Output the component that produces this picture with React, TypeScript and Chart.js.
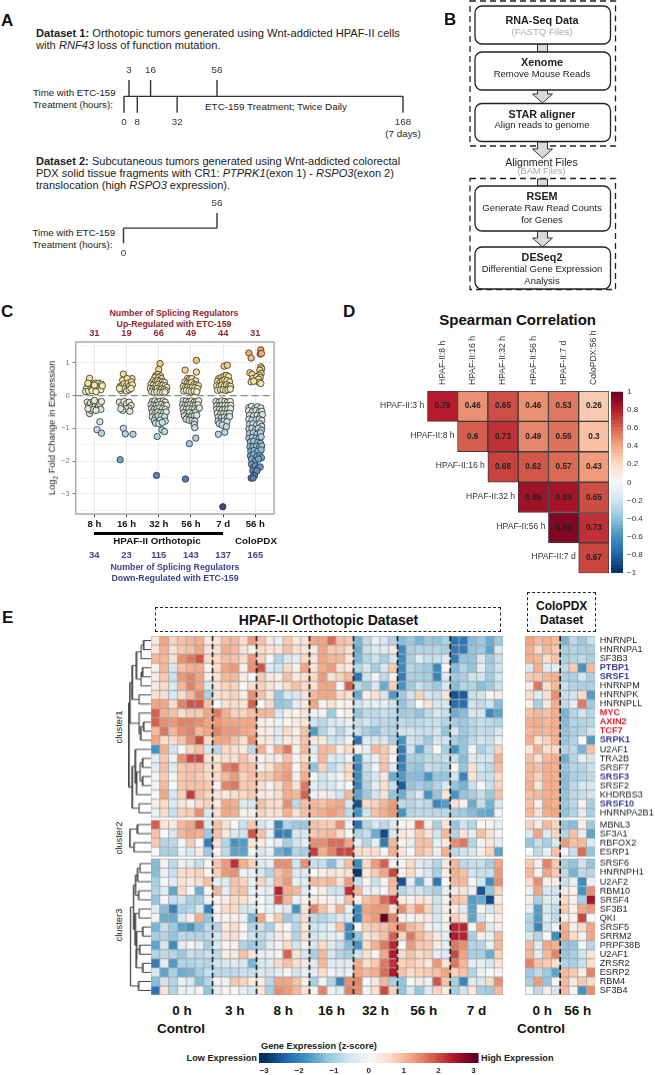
import React, { useEffect, useRef } from "react";
import { Chart, registerables } from "chart.js";
Chart.register(...registerables);

const FONT = '"Liberation Sans", Arial, sans-serif';

// ---------- Panel A ----------
const dataset1Up = [3, 16, 56];
const dataset1Down = [0, 8, 32, 168];
const dataset2Up = [56];
const dataset2Down = [0];
const dataset1End = 168;
const dataset2End = 56;

// ---------- Panel C ----------
const swarmLabels = ["8 h", "16 h", "32 h", "56 h", "7 d", "56 h"];
const upCounts = [31, 19, 66, 49, 44, 31];
const downCounts = [34, 23, 115, 143, 137, 165];
const swarm8h = [[-.15,.53],[-.2,.3],[-.25,.2],[-.27,.12],[-.18,.14],[-.1,.25],[-.12,.35],[-.03,.3],[0,.2],[.03,.38],[.07,.3],[.1,.22],[.13,.38],[.17,.28],[.2,.18],[.22,.35],[.25,.3],[-.07,.15],[.05,.12],[-.2,.38],[0,.32],
[-.15,-.55],[-.22,-.2],[-.17,-.3],[-.12,-.22],[-.07,-.35],[-.02,-.2],[.03,-.3],[.08,-.2],[.12,-.35],[.17,-.25],[.2,-.42],[.22,-.18],[-.1,-.45],[-.03,-.42],[.05,-.45],[0,-.15],[-.2,-.4],[.17,-.8],[.08,-1.04],[.22,-1.15]];
const swarm16h = [[-.1,.66],[.17,.52],[-.12,.47],[.02,.52],[-.2,.28],[-.14,.3],[-.07,.36],[0,.3],[.05,.38],[.1,.3],[.15,.42],[.18,.33],[-.17,.16],[-.08,.2],[0,.14],[.08,.18],[.14,.22],[-.22,.22],
[-.22,-.2],[-.15,-.3],[-.08,-.18],[0,-.25],[.08,-.2],[.14,-.3],[.07,-.38],[-.02,-.4],[-.12,-.45],[-.18,-.4],[.1,-.48],[-.1,-1.0],[-.04,-1.17],[.2,-1.18],[-.2,-1.96]];
const swarm32h = [[.04,.98],[0,.8],[-.08,.62],[-.02,.65],[.05,.6],[-.12,.55],[0,.55],[.08,.52],[-.18,.45],[-.1,.42],[-.03,.46],[.04,.44],[.11,.42],[.18,.4],[-.24,.35],[-.17,.32],[-.09,.3],[-.01,.34],[.06,.3],[.13,.32],[.2,.3],[.25,.25],[-.26,.22],[-.19,.2],[-.12,.18],[-.05,.22],[.02,.18],[.09,.2],[.16,.18],[.23,.15],[-.22,.12],[-.14,.1],[-.06,.11],[.04,.1],[.12,.1],[.19,.11],
[-.2,-.18],[-.12,-.16],[-.04,-.2],[.05,-.17],[.14,-.16],[.2,-.2],[-.24,-.28],[-.16,-.3],[-.08,-.3],[0,-.28],[.09,-.27],[.17,-.3],[.24,-.3],[-.22,-.4],[-.14,-.42],[-.05,-.4],[.03,-.38],[.12,-.4],[.2,-.42],[-.2,-.52],[-.12,-.55],[-.03,-.5],[.06,-.52],[.15,-.52],[.23,-.5],[-.2,-.65],[-.1,-.66],[-.02,-.62],[.08,-.64],[.18,-.65],[-.14,-.76],[-.05,-.8],[.04,-.75],[.2,-.78],[-.1,-.84],[0,-.86],[.11,-.82],[-.05,-1.25],[.1,-1.05],[.18,-1.1],[-.07,-2.44]];
const swarm56h = [[.17,1.08],[-.18,.78],[.17,.72],[-.1,.53],[-.04,.5],[.03,.52],[.14,.45],[-.19,.42],[-.12,.38],[-.05,.36],[.02,.4],[.09,.34],[.17,.33],[.23,.3],[-.24,.28],[-.17,.25],[-.1,.26],[-.03,.24],[.05,.26],[.12,.24],[.2,.22],[-.22,.14],[-.14,.16],[-.06,.14],[.02,.12],[.1,.14],[.18,.12],
[-.24,-.16],[-.15,-.17],[-.07,-.2],[.02,-.16],[.1,-.2],[.18,-.18],[.24,-.16],[-.26,-.28],[-.18,-.3],[-.1,-.29],[-.02,-.28],[.06,-.3],[.14,-.3],[.22,-.28],[-.24,-.4],[-.15,-.42],[-.06,-.4],[.03,-.42],[.12,-.4],[.2,-.42],[.26,-.38],[-.22,-.52],[-.13,-.54],[-.04,-.52],[.05,-.55],[.14,-.52],[-.2,-.62],[-.1,-.66],[0,-.65],[.1,-.62],[.18,-.6],[-.15,-.72],[-.06,-.75],[.04,-.76],[.12,-.78],[.1,-.88],[.12,-.98],[-.05,-1.47],[.15,-1.3],[-.17,-2.55]];
const swarm7d = [[.03,.9],[.13,.93],[-.14,.52],[-.06,.55],[.03,.6],[.1,.62],[.17,.58],[-.17,.44],[-.1,.4],[-.02,.45],[.05,.48],[.12,.46],[.2,.42],[-.2,.3],[-.12,.28],[-.04,.32],[.04,.3],[.11,.33],[.18,.3],[.23,.28],[-.17,.16],[-.08,.18],[0,.18],[.08,.16],[.15,.18],[.22,.2],
[-.22,-.18],[-.13,-.2],[-.04,-.16],[.05,-.18],[.13,-.2],[.22,-.18],[-.2,-.3],[-.12,-.32],[-.03,-.3],[.06,-.3],[.15,-.3],[.24,-.3],[-.2,-.42],[-.11,-.42],[-.03,-.44],[.06,-.42],[.14,-.42],[.23,-.4],[-.18,-.54],[-.08,-.56],[.02,-.55],[.11,-.55],[.2,-.54],[-.15,-.66],[-.06,-.68],[.04,-.66],[.13,-.68],[.2,-.64],[-.16,-.78],[-.07,-.8],[.03,-.78],[.12,-.8],[-.12,-.86],[-.03,-.9],[.1,-.95],[-.15,-1.18],[.05,-1.12],[-.01,-3.4]];
const swarmPdx = [[-.2,1.3],[-.13,1.15],[.17,1.4],[.15,1.27],[.19,1.29],[.17,.88],[.2,.82],[.14,.78],[-.17,.7],[-.1,.65],[.18,.68],[.12,.63],[-.03,.53],[-.08,.52],[.05,.58],[.15,.55],[.1,.5],[-.13,.42],[.12,.4],[.17,.37],[-.05,.44],
[-.2,-.36],[-.12,-.33],[-.02,-.4],[.07,-.34],[.17,-.38],[-.21,-.46],[-.1,-.5],[.02,-.46],[.12,-.5],[.2,-.48],[-.18,-.6],[-.06,-.62],[.06,-.6],[.16,-.62],[.22,-.58],[-.2,-.72],[-.1,-.75],[.02,-.74],[.12,-.72],[.2,-.76],[-.18,-.88],[-.07,-.86],[.04,-.9],[.14,-.86],[.2,-.94],[-.2,-1.02],[-.1,-1.0],[.01,-1.04],[.1,-1.0],[.19,-1.06],[-.18,-1.16],[-.06,-1.14],[.05,-1.18],[.16,-1.14],[-.2,-1.3],[-.09,-1.28],[.02,-1.3],[.12,-1.3],[.18,-1.26],[-.15,-1.42],[-.05,-1.4],[.07,-1.44],[.16,-1.46],[-.17,-1.56],[-.07,-1.56],[.03,-1.55],[.13,-1.58],[.2,-1.54],[-.14,-1.7],[-.04,-1.68],[.08,-1.7],[.18,-1.66],[-.15,-1.84],[-.05,-1.8],[.05,-1.86],[.14,-1.84],[.19,-1.9],[-.12,-1.94],[.0,-2.0],[.1,-1.94],[-.12,-2.1],[-.06,-2.2],[0,-2.15],[.08,-2.22],[.15,-2.18],[-.08,-2.3],[-.02,-2.38],[.05,-2.3],[-.03,-2.45],[-.13,-2.52],[-.07,-2.52]];
const swarms = [swarm8h, swarm16h, swarm32h, swarm56h, swarm7d, swarmPdx];

// ---------- Panel D ----------
const corrCols = ["HPAF-II:8 h", "HPAF-II:16 h", "HPAF-II:32 h", "HPAF-II:56 h", "HPAF-II:7 d", "ColoPDX:56 h"];
const corrRows = ["HPAF-II:3 h", "HPAF-II:8 h", "HPAF-II:16 h", "HPAF-II:32 h", "HPAF-II:56 h", "HPAF-II:7 d"];
const corrValues = [
  [0.79, 0.46, 0.65, 0.46, 0.53, 0.26],
  [null, 0.6, 0.73, 0.49, 0.55, 0.3],
  [null, null, 0.68, 0.62, 0.57, 0.43],
  [null, null, null, 0.85, 0.83, 0.65],
  [null, null, null, null, 0.93, 0.73],
  [null, null, null, null, null, 0.67],
];

// ---------- Panel E ----------
const geneNames = ["HNRNPL","HNRNPA1","SF3B3","PTBP1","SRSF1","HNRNPM","HNRNPK","HNRNPLL","MYC","AXIN2","TCF7","SRPK1","U2AF1","TRA2B","SRSF7","SRSF3","SRSF2","KHDRBS3","SRSF10","HNRNPA2B1",
  "MBNL3","SF3A1","RBFOX2","ESRP1",
  "SRSF6","HNRNPH1","U2AF2","RBM10","SRSF4","SF3B1","QKI","SRSF5","SRRM2","PRPF38B","U2AF1","ZRSR2","ESRP2","RBM4","SF3B4"];
const blueGenes = ["PTBP1", "SRSF1", "SRPK1", "SRSF3", "SRSF10"];
const redGenes = ["MYC", "AXIN2", "TCF7"];
const clusterSizes = [20, 4, 15];
const orthoGroups = ["0 h", "3 h", "8 h", "16 h", "32 h", "56 h", "7 d"];
const orthoGroupSizes = [7, 5, 6, 5, 5, 6, 6];
const pdxGroups = ["0 h", "56 h"];
const pdxGroupSizes = [4, 4];
const orthoZ = [
[.3,1.2,.7,.9,1,1.1,.3, .4,.9,1,.5,1.3, .9,.3,-.2,.8,.3,.4, 1.2,1.2,1.7,.9,.8, -1.4,-.8,-.2,-.5,-.9, -1.3,-1.1,-1.4,-1.1,-1.2,-1, -2.2,-2.2,-1.3,-1.1,-1.5,-1.1],
[.4,1.1,.5,.8,.9,1.2,.4, .5,1.1,1,.4,.1, .6,.4,.4,.9,.5,.4, .3,1.2,.8,.8,.5, -1.5,-.7,-.4,-.4,.3, -1.9,-1,-.9,-.9,-.9,-1, -2.1,-2.1,-1.2,-1.1,-1.6,-.5],
[1,1,.5,1.4,1.6,1.9,.6, .6,.9,.9,.6,1.3, .7,0,-.9,-.5,-.3,.6, .4,1.2,1,1,.4, -1.4,-.9,-.6,-1,-.5, -1.9,-1,-.4,-.7,-.7,-.4, -2.1,-1.2,-1.2,-.5,-1.1,-.7],
[.1,1,-.5,.9,1.1,1.1,.1, .5,1.2,1.3,.2,1.4, 1.9,-.4,-.6,.6,.1,1.2, .4,1.1,1.3,.4,.3, -.9,-.5,-1,-.5,.8, -1.9,-.9,-1,-1.1,-1.9,0, -1.3,-.9,-1.2,-.3,-1,-.6],
[.3,.8,-.7,1.3,1.5,1.2,.2, .5,1,1,.3,0, .8,.3,.2,.9,.3,.5, .6,1.3,.5,.7,1, -2.2,-.6,-.1,-.8,.1, -2.1,-1,-1,-1,-2,-.4, -1.1,-1,-.6,-.6,-1.1,-.6],
[.3,.6,-.5,1,1.5,1.2,-.5, .4,.7,.7,0,.5, .7,.4,.2,.6,.9,.6, .5,1.2,1.2,0,1.8, -.8,-1.1,-.5,-1.5,.7, -1.8,-1.1,-.7,-.9,-1.1,-.5, -1.3,-.9,-.9,-1.3,-1.1,-.7],
[.5,.5,-.5,.5,1,1.5,-1, .4,.6,.7,.2,1.4, .9,.3,-1.2,-.5,-.5,.4, 1,1.2,1.2,.6,.5, -1.5,.2,.4,-.5,-1.7, -1.1,-.6,.7,-.5,-.7,.4, -2.6,-2.5,-.7,-.6,0,.2],
[1.2,1.2,.6,1.5,1.9,1.9,.9, 0,.5,.6,.4,1.8, 0,.6,-1.2,-1.1,-.3,.3, 1.2,.1,.5,.1,.1, -.6,-.4,-.3,-.3,-.6, -1.2,-.8,0,.4,-.5,-.5, -2.3,-2.3,-.6,-.8,-.6,-1.3],
[1.8,1.1,.9,.6,.8,.8,1.2, 1.6,1.1,.7,.7,.9, 1,1,-.5,.2,.1,.4, -.2,.1,-1.1,0,.2, -1.2,-.8,-.8,-.7,-.8, -1.1,-1,-1.2,-.8,-.5,-.7, -1.5,-1.3,-.5,-.6,-1.9,-1.6],
[1.8,1.4,1.3,1.5,1.5,1.4,1.2, 1.3,1.2,1.2,1.2,1.2, .2,.1,-.2,.1,.3,.4, -.6,-.8,-.5,-.4,-.2, -.7,-.6,-.8,-.8,-.9, -.8,-.9,-.8,-.7,-.7,-.9, -1,-1.1,-.9,-.7,-.8,-.9],
[1,1.6,1,1.4,1.5,1,1.2, 1.5,1.3,1.3,1.2,1.1, .3,.2,-.4,.6,.2,.9, -1.7,-.9,-.4,-.9,-.4, -.7,-1,-1.2,-.8,-.9, -.6,-.6,-.7,-.7,-.6,-1.2, -.5,-1.1,-.9,-.7,-.8,-.5],
[1.2,.6,.6,.9,1.4,2,.6, 1.2,1.2,.9,.5,1.4, .3,.3,-.4,.3,.3,.9, .3,.3,-.6,-.6,-.1, -2.2,-.4,-.5,-.5,-1, -1.8,-.6,-.7,-1.1,-.5,-.6, -1,-1.2,-.8,-.6,-.7,-.2],
[-1.8,1.1,-.6,0,.7,.9,-.5, -.8,.6,.6,.3,-.8, 1.1,.2,1.1,1.6,.2,1, -.4,1,.9,.2,.6, .2,-.3,1,.8,.3, -2.1,-.6,-1.6,-.8,0,-1, -1.8,-1.2,-.1,-1,-.7,.7],
[-.3,.8,-.2,1.4,2,2,.4, .3,.5,.5,.9,.5, .1,.3,.2,.9,.1,.6, -.2,1,-.4,-.5,-.1, -1.8,-.5,-.2,.8,0, -2.1,-1,-1,-.8,-.8,-.7, -.7,-1.3,-.4,-.6,-.6,1.1],
[-.3,.9,-.4,.8,.9,.9,.6, .6,1.5,1.7,.9,.9, .2,.4,1,1.2,0,.9, -1.2,.7,-.8,-.4,.6, -2,-.7,-.1,.9,-.4, -2,-1.1,-1.2,-.7,-.8,-.9, 0,-1.2,.4,-.6,-.8,.9],
[-.1,.8,-.1,.8,.9,.8,.6, .6,1,1.3,.7,.9, .8,.8,1.1,1.3,.2,1.1, -.1,-.6,-.3,-.1,.6, -1.9,-.8,-.5,.3,-1.5, -1.7,-1.3,-1.3,-1.8,-1.2,-1.2, -.6,-2,.4,-.7,-.7,.6],
[-.1,1,0,.8,.9,.9,.8, .1,1.5,1.6,.8,.8, .5,.1,.6,1.1,.4,1.6, -.3,-.6,-.5,-.2,0, -2,-.9,-.3,.5,-.7, -2.5,-1.2,-1,-1.2,-.9,-.5, -1.2,-1.4,-.7,0,-.7,.7],
[0,1.2,-.5,.7,2.1,.9,.7, .4,.3,.6,.6,.8, .3,.2,.5,1.1,1,1.8, -.2,.2,-.3,-.6,1, -1.6,-1.1,-.6,.4,-1.2, -1.5,-.8,-.4,-1.8,-1.2,.4, -1.8,-1.2,-1,-.7,-1.1,.9],
[.2,.6,-.4,.4,.1,.6,.7, .3,1.2,1.1,-.4,-.5, .9,.6,.5,1.4,-.8,.9, 1,.9,1.1,1.2,-.5, -2.6,.6,.7,1,1.3, -.8,-.9,-.7,-.8,-2,-1.7, .4,.1,-1.5,-.7,-1.4,-.5],
[-.2,.6,-.7,.7,.8,1.4,-.5, .5,1.2,1.1,.2,.1, .7,.4,.5,1.1,.5,.9, 1,1.1,1.3,1.1,-.8, -1.8,-.6,.9,1.1,1.3, -1.8,-.9,-.8,-.8,-.8,-.8, -1,-1.1,-1.3,-1.5,-1.6,.1],
[1.8,.4,.3,1,1.2,1.9,-.5, .9,.5,0,-.7,.8, -.5,-.2,-2,-.9,-1.1,-1.1, .9,.8,.8,1.4,-.2, -2.2,-.9,-.5,-.8,-.4, .1,.1,1.7,.2,-1,.4, -1.2,-.6,-.9,0,.1,-.3],
[.9,0,-.5,1,1.2,1.1,-1.1, .9,.3,-.4,-.6,1.9, .9,-.3,-2.1,-2,-.5,-.5, .8,.9,1,.6,0, -.9,-.7,-1.5,-2.7,-.5, .4,.2,.8,.4,-.6,1, -.9,.4,-.3,.9,.4,-.1],
[.8,-.9,-.8,-.1,.8,0,-2.1, .4,-.9,-1.8,-1.7,.4, .3,-.1,-.3,-1,-.6,-.3, 1.4,1.4,1.7,1.7,1.2, -.3,-.9,-.3,-2.1,1, .1,-.3,.9,.9,-.3,.3, 1.4,1.6,-.9,-.1,.4,-.3],
[0,-1,-1,-.2,-.5,.3,-1.1, .1,-.8,-1.6,-1.6,.1, -.5,-.3,-1.5,-1.7,-.9,-1, 2.1,1.1,1.5,2,2, .6,.5,.5,-.1,1.1, .4,0,.9,.7,-.2,1.1, -.8,-.6,-.5,.2,.7,-1.6],
[-1.3,.1,-.8,-.2,-.4,-.7,0, .8,1.3,2.2,1.1,.7, -.4,-.3,1.4,1.4,-.6,1.4, -.7,-.7,-1.3,-.4,.9, -1.9,.6,1.3,1.8,.2, -.1,.6,-.4,-.5,-.9,.3, 1,-.8,-.7,-.7,-1,1.2],
[-1.3,-.2,-.7,.5,.6,.7,0, .7,1.3,1.4,-.2,-.2, -.5,-.9,.9,1.2,-.4,-.4, 0,.2,.4,.3,.5, -2.9,.3,.8,1.2,2, .1,.6,-.2,-.5,-1,.2, 1.1,.9,-.6,-.7,-.7,1.3],
[-1,0,-.4,.4,.3,.5,.9, -.3,-.4,.9,.7,-.3, .7,-.4,1,1.3,-.2,-.4, 1,.9,1,.5,1.3, -.7,.1,-.7,.1,1, -2.6,-.3,-1.5,-.2,-2.2,0, 1,1,-.1,-.6,-1.9,1.4],
[-.9,-.4,-1.6,.6,0,-1.5,0, 1,-.3,.8,.9,-.2, -.2,-.3,2.3,1.1,1,-.4, 0,.2,-.6,-.6,2.2, 1,-.2,-.2,0,.9, -.9,-.6,-.6,-.8,-1,-.3, .3,.4,-.2,-2.6,-1.2,.7],
[-1.2,0,-.7,-.6,-1,-1,-.1, .1,.2,.6,.5,.1, 0,-.3,1.9,1,-.2,.1, .3,.1,.2,-.2,.9, .1,.9,1.1,1.7,2.2, .3,.1,.4,.3,-.6,.1, .9,.8,-1.7,-1.5,-2.7,.3],
[-.4,-1.3,-2,-1,-.9,-.5,-2, .1,.6,.6,-.5,-.5, 0,-.2,-.2,-.4,-1.8,.4, 1.5,.9,.3,1.1,-.3, -1.9,1.2,1.3,1.3,.5, 1.4,.8,1.3,.7,-.6,.2, .3,-.4,-1.6,.1,-.6,.5],
[.1,-1.5,-1.5,-.5,.1,1.1,-1.2, .1,.1,.2,-.2,-1.4, 1.2,.1,.8,-1.1,-.8,.5, -.8,-.9,-.7,-.4,-.4, -2,1.1,1.3,3,1.5, .2,-.1,.2,.3,-.5,.1, .7,.3,-1.6,-.6,0,.3],
[-1.4,-.7,-1.1,-1.6,-1.8,-1.3,-.8, -.9,.3,.6,0,-.9, -.7,-1,.2,0,-.9,.3, -.6,-.5,-.2,.9,-1.9, 0,.7,.8,.9,1.2, 1.5,1,.8,.1,-.3,.1, 2.3,2.3,.1,1.2,-.4,.2],
[-1,-.9,-1.2,-.8,-.9,-.9,-.8, -.5,.4,.5,.1,-.6, -.8,-.5,.3,.2,-.9,.5, -.6,-.4,-.3,-.3,-1.9, -1.2,.4,.6,.9,1.8, .7,1.6,1,.7,.3,-.3, 2.4,2.3,-1,.2,-.2,1],
[-1.6,-.5,-1.9,-.3,-.1,-.3,-1, -.4,0,.1,-.9,-1.1, -.9,-.3,.1,.6,-.6,.1, -.5,.6,-.4,-.7,-1.3, -1.8,.6,1.1,1.6,2.3, 0,1.3,.8,.8,.3,-.3, 1.6,1.4,-.9,-.9,-.2,1],
[-.9,-.8,-.9,-1.1,-.7,-.8,-.7, -.8,.2,.3,.9,.3, -.2,-.2,.1,1.8,.4,-.5, -1,1,-.5,-.9,-1, -.6,.5,.1,1.2,2.4, .6,.9,.6,.7,-.3,-.4, 2,1.2,-1,-1,-1.5,.7],
[-2.1,-.3,-1.7,-.9,-.9,-.8,-.9, -.6,-.5,-.4,-.5,-1.4, -.5,-.4,.6,.9,.5,.3, -.4,1,-.4,-.4,-.4, 1.1,.5,.8,1.6,2.2, .7,.8,.6,.3,1.3,.4, 1.6,1,-.3,-.3,-.5,.4],
[-.5,-1.6,-1,-1.5,-1.4,-1,-.7, -.8,-.8,-.8,-.7,-.7, -.4,-.5,-.3,-.1,-.6,-.2, -.3,.6,-.1,-.3,-.2, 1.2,1,1.1,1.7,2.4, .9,.6,.7,.8,.9,1.2, .7,.9,-.9,-.2,0,.1],
[-1.3,-.6,-.9,-.2,-.5,-1.3,-.9, -.1,-.1,.8,.7,.3, .2,-.8,1.2,1.2,.9,.2, -1,-.1,-.9,-2,1.4, 1.5,0,.3,1,-1, -1.2,0,.3,-.2,1.9,.9, -1,-2,-.4,-.5,.6,1.4],
[-2.2,.4,-.9,-.2,-.2,-.1,-1.2, -.3,.1,0,-.3,-.5, .4,-1,1.4,1.3,1,.5, -.1,1.5,-.2,-.4,1.5, 1.4,.1,.5,2,.7, -1.2,-.5,-1.2,-.4,.7,.3, -1,-.6,.3,-1,-1.1,1],
];
const pdxZ = [
[1.2,1,1.1,1, -1.4,-.8,-1.1,-.7],
[1.1,.6,1,.8, -1,-.9,-1,-1],
[1.1,1,.6,.9, -1,-.9,-.8,-1],
[-.5,1.1,-.4,-.3, -.8,.8,-1.8,1],
[.8,.8,1,1.1, -1,-1,-.6,-1],
[.2,1.6,.5,1, -.7,-.9,-1,-1],
[.6,-.4,.4,1.4, -.7,-.6,.6,-1.7],
[.2,-1,.3,1.1, -.8,-.3,1.6,-1.1],
[.9,1,.9,1.1, -1.4,-.9,-.6,-.9],
[1.1,1.1,1,1.1, -1.3,-.9,-.9,-.9],
[1,1.1,1,1.1, -1.2,-1,-.9,-.6],
[1.1,.4,.7,1.1, -1.2,-.9,0,-1.7],
[.4,1.1,.5,.6, -.9,-.8,-1.4,.9],
[.9,.5,1,1.1, -1.5,-.9,-.3,-.6],
[1,.9,1.1,1.1, -1.2,-.9,-.9,-.7],
[1,.7,1.1,1.1, -1.3,-1,-.9,-.8],
[1.1,.4,1.1,1.1, -1.3,-.8,-.5,-.5],
[.9,1,1.1,1.1, -1.2,-.8,-.7,-.6],
[.9,.2,1.2,1.1, -1.1,-.8,.1,-1],
[1,.5,1.1,1.2, -1.2,-.9,-.3,-1],
[.7,.3,1,.7, -1.2,-1.3,.2,-1.1],
[-.5,1.2,-.4,.7, -.9,.9,-.3,-1.6],
[-1.2,-.7,-1,-.5, 1.3,.9,1,-.5],
[0,-.8,-.2,.9, 0,-.7,1.7,-1.2],
[.8,.2,1.5,.8, -1,-1.2,-.6,-1.2],
[1,.1,1.2,.8, -.8,-1.4,-.8,-.9],
[.6,1.4,.2,.2, -.7,-.2,-1.9,-.2],
[-.2,1.2,-.5,-.6, .3,.1,-1.8,1.4],
[.2,-1,-.4,-.4, .6,.1,-1,2.5],
[-.3,-1.7,-.5,-.8, .8,.1,1.2,1.3],
[-.9,-1.7,-.4,-.8, .2,.1,2,0],
[-.9,-2,-.6,-.1, 1.1,.2,.6,1.2],
[-.5,-.9,0,-1.9, 1.2,.6,.1,1.2],
[1,-.4,1.2,1.1, -1.2,-1.2,-.1,-.9],
[1,-.3,1,1.5, -1.2,-1,-.6,.4],
[1.5,.9,.8,.5, -.9,-1,-.7,.5],
[-1.1,-.8,-1.1,-1.6, 1,.8,.2,1.5],
[-1,1.3,-1.2,0, 1,.3,.8,.6],
[-.1,-.8,.3,-.6, 1,.1,-1.8,1.4],
];
// dendrogram: [merge distance, left branch, right branch]; numbers are row indices
const treeCluster1 = [21.7,
  [20.7,
    [18.3,
      [14.3, [9.7, [7.3, 0, 1], 2], [9.7, [8.3, 3, 4], 5]],
      [11.7, 6, 7]],
    [11.7, 8, [10, [7.3, 9, 10], 11]]],
  [18.3,
    [15.3, 12, [14, [10.7, [8.3, 13, 14], [8.3, 15, 16]], 17]],
    [11.7, 18, 19]]];
const treeCluster2 = [20.7, [13.3, 20, 21], [16.7, 22, 23]];
const treeCluster3 = [20,
  [17,
    [15, [13, [10.7, 24, 25], 26], [12, 27, 28]],
    [15.5, [11.7, 29, 30], [14, [8, 31, 32], [14.5, [11, 33, 34], [8, 35, 36]]]]],
  [12, 37, 38]];

// ---------- colours ----------
const rdbuStops = ["#053061","#2166ac","#4393c3","#92c5de","#d1e5f0","#f7f7f7","#fddbc7","#f4a582","#d6604d","#b2182b","#67001f"];
const hex = (c: string) => [1, 3, 5].map((i) => parseInt(c.slice(i, i + 2), 16));
function lerpStops(stops: string[], t: number) {
  const p = Math.max(0, Math.min(1, t)) * (stops.length - 1);
  const i = Math.min(stops.length - 2, Math.floor(p));
  const a = hex(stops[i]), b = hex(stops[i + 1]), f = p - i;
  return `rgb(${a.map((v, k) => Math.round(v + (b[k] - v) * f)).join(",")})`;
}
const rdbu = (t: number) => lerpStops(rdbuStops, (t + 1) / 2);
const swarmStopValues = [-3.4, -2.5, -2, -1.5, -1, -.5, -.2, .2, .5, 1, 1.4];
const swarmStopColors = ["#46468f","#5a7fb8","#6ba2cc","#93c4de","#bddce8","#d8e8dc","#e6edd4","#f5efb5","#f8e39a","#f9c77e","#f4a460"];
function swarmColor(v: number) {
  let i = 0;
  while (i < swarmStopValues.length - 2 && v > swarmStopValues[i + 1]) i++;
  const f = Math.max(0, Math.min(1, (v - swarmStopValues[i]) / (swarmStopValues[i + 1] - swarmStopValues[i])));
  const a = hex(swarmStopColors[i]), b = hex(swarmStopColors[i + 1]);
  return `rgb(${a.map((c, k) => Math.round(c + (b[k] - c) * f)).join(",")})`;
}

// ---------- helpers ----------
const base = { responsive: false, animation: false as const, events: [] as string[], };
const noLegend = { legend: { display: false }, tooltip: { enabled: false } };

function ChartBox({ x, y, w, h, config }: any) {
  const ref = useRef<HTMLCanvasElement>(null);
  useEffect(() => {
    const chart = new Chart(ref.current!, config());
    return () => chart.destroy();
  }, []);
  return <canvas ref={ref} width={w} height={h} style={{ position: "absolute", left: x, top: y, width: w, height: h, display: "block" }} />;
}

function T({ x, y, s = 10, b = false, i = false, c = "#222", a = "left", r = 0, children }: any) {
  const tx = a === "center" ? "-50%" : a === "right" ? "-100%" : "0";
  return (
    <div style={{ position: "absolute", left: x, top: y, fontSize: s, fontWeight: b ? 700 : 400, fontStyle: i ? "italic" : "normal", color: c, whiteSpace: "nowrap", lineHeight: 1, fontFamily: FONT,
      transform: `translate(${tx},-50%)${r ? ` rotate(${r}deg)` : ""}` }}>{children}</div>
  );
}

// ---------- timeline ----------
function timelineConfig(up: number[], down: number[], end: number, padL: number, padR: number, padT: number, padB: number) {
  const color = "#333";
  const seg = (pts: any[]) => ({ data: pts, showLine: true, borderColor: color, borderWidth: 1.4, pointRadius: 0, clip: false as const });
  const labels = {
    id: "tlLabels",
    afterDatasetsDraw(chart: any) {
      const { ctx, scales: { x, y } } = chart;
      ctx.save();
      ctx.font = `9.8px ${FONT}`;
      ctx.fillStyle = "#333";
      ctx.textAlign = "center";
      ctx.textBaseline = "middle";
      up.forEach((v) => ctx.fillText(String(v), x.getPixelForValue(v), y.getPixelForValue(1) - 10));
      down.forEach((v) => ctx.fillText(String(v), x.getPixelForValue(v), y.getPixelForValue(-1) + 10));
      ctx.restore();
    },
  };
  return {
    type: "scatter" as const,
    data: {
      datasets: [
        seg([{ x: 0, y: 0 }, { x: end, y: 0 }]),
        ...up.map((v) => seg([{ x: v, y: 0 }, { x: v, y: 1 }])),
        ...down.map((v) => seg([{ x: v, y: 0 }, { x: v, y: -1 }])),
      ],
    },
    options: {
      ...base,
      layout: { padding: { left: padL, right: padR, top: padT, bottom: padB } },
      plugins: noLegend,
      scales: {
        x: { type: "linear" as const, display: false, min: 0, max: end },
        y: { type: "linear" as const, display: false, min: -1, max: 1 },
      },
    },
    plugins: [labels],
  };
}

// ---------- swarm ----------
function swarmConfig() {
  const frame = {
    id: "frame",
    afterDatasetsDraw(chart: any) {
      const { ctx, chartArea: a } = chart;
      ctx.save();
      ctx.strokeStyle = "#a9a9a9";
      ctx.lineWidth = 1.5;
      ctx.strokeRect(a.left, a.top, a.right - a.left, a.bottom - a.top);
      ctx.restore();
    },
  };
  const ticks16 = (s: any) => { s.ticks = swarmLabels.map((_, i) => ({ value: i + 1 })); };
  return {
    type: "scatter" as const,
    data: {
      datasets: [
        { data: [{ x: .42, y: 0 }, { x: 6.58, y: 0 }], showLine: true, borderColor: "#888", borderWidth: 1.2, borderDash: [7, 4], pointRadius: 0 },
        ...swarms.map((pts, c) => ({
          data: pts.map(([o, v]) => ({ x: c + 1 + o, y: v })),
          backgroundColor: (ctx: any) => (ctx.raw ? swarmColor(ctx.raw.y) : "#fff"),
          borderColor: "#2d2d2d",
          borderWidth: .8,
          pointRadius: 3.2,
        })),
      ],
    },
    options: {
      ...base,
      layout: { padding: { right: 6 } },
      plugins: noLegend,
      scales: {
        x: {
          type: "linear" as const, min: .42, max: 6.58, position: "bottom" as const,
          afterBuildTicks: ticks16,
          afterFit: (s: any) => { s.height = 22; },
          grid: { color: "#e8ecf1", tickColor: "#333", tickLength: 3 },
          border: { display: false },
          ticks: { autoSkip: false, maxRotation: 0, padding: 2, color: "#111", font: { family: FONT, size: 9.6, weight: "bold" as const }, callback: (v: any) => swarmLabels[v - 1] },
        },
        xTop: {
          type: "linear" as const, min: .42, max: 6.58, position: "top" as const,
          afterBuildTicks: ticks16,
          afterFit: (s: any) => { s.height = 17; },
          grid: { display: false, drawTicks: false },
          border: { display: false },
          ticks: { autoSkip: false, maxRotation: 0, padding: 3, color: "#8b2a2e", font: { family: FONT, size: 9.4, weight: "bold" as const }, callback: (v: any) => String(upCounts[v - 1]) },
        },
        y: {
          type: "linear" as const, min: -3.62, max: 1.64,
          afterBuildTicks: (s: any) => { s.ticks = [-3.5, -3, -2.5, -2, -1.5, -1, -.5, 0, .5, 1, 1.5].map((value) => ({ value })); },
          afterFit: (s: any) => { s.width = 35.7; },
          grid: {
            color: (c: any) => (c.tick && c.tick.value % 1 === 0 ? "#e8ecf1" : "#f2f4f7"),
            tickColor: (c: any) => (c.tick && c.tick.value % 1 === 0 ? "#666" : "rgba(0,0,0,0)"),
            tickLength: 3,
          },
          border: { display: false },
          ticks: { autoSkip: false, padding: 3, color: "#777", font: { family: FONT, size: 7.6 }, callback: (v: any) => (v % 1 === 0 ? String(v).replace("-", "\u2212") : "") },
        },
      },
    },
    plugins: [frame],
  };
}

// ---------- floating-bar matrix ----------
function corrConfig() {
  const labels = {
    id: "corrLabels",
    afterDatasetsDraw(chart: any) {
      const { ctx, scales: { x, y } } = chart;
      ctx.save();
      ctx.textBaseline = "middle";
      corrValues.forEach((row, r) => {
        const first = row.findIndex((v) => v !== null);
        const half = (x.getPixelForValue(1) - x.getPixelForValue(0)) / 2;
        ctx.font = `8.6px ${FONT}`;
        ctx.fillStyle = "#333";
        ctx.textAlign = "right";
        ctx.fillText(corrRows[r], x.getPixelForValue(first) - half - 3, y.getPixelForValue(r + .5) - 1);
        ctx.font = `bold 8.2px ${FONT}`;
        ctx.fillStyle = "#222";
        ctx.textAlign = "center";
        row.forEach((v, c) => { if (v !== null) ctx.fillText(String(v), x.getPixelForValue(c), y.getPixelForValue(r + .5)); });
      });
      ctx.font = `8.6px ${FONT}`;
      ctx.fillStyle = "#333";
      ctx.textAlign = "left";
      corrCols.forEach((name, c) => {
        ctx.save();
        ctx.translate(x.getPixelForValue(c), y.getPixelForValue(0) - 6);
        ctx.rotate(-Math.PI / 2);
        ctx.fillText(name, 0, 0);
        ctx.restore();
      });
      ctx.restore();
    },
  };
  return {
    type: "bar" as const,
    data: {
      labels: corrCols,
      datasets: corrValues.map((row, r) => ({
        data: row.map((v) => (v === null ? null : [r, r + 1])),
        backgroundColor: row.map((v) => (v === null ? "rgba(0,0,0,0)" : rdbu(v))),
        borderColor: "#3a3a3a",
        borderWidth: 1,
        borderSkipped: false,
        grouped: false,
        barPercentage: 1,
        categoryPercentage: 1,
      })),
    },
    options: {
      ...base,
      layout: { padding: { left: 82.3, top: 76, right: 3, bottom: 1.7 } },
      plugins: noLegend,
      scales: {
        x: { type: "category" as const, display: false },
        y: { type: "linear" as const, display: false, min: 0, max: 6, reverse: true },
      },
    },
    plugins: [labels],
  };
}

function gradientSteps(min: number, max: number, step: number) {
  const out: number[] = [];
  for (let v = min; v < max - 1e-6; v += step) out.push(v);
  return out;
}

function corrBarConfig() {
  const steps = gradientSteps(-1, 1, .04);
  return {
    type: "bar" as const,
    data: {
      labels: ["scale"],
      datasets: steps.map((v) => ({ data: [[v, v + .045]], backgroundColor: rdbu(v + .02), borderWidth: 0, grouped: false, barPercentage: 1, categoryPercentage: 1 })),
    },
    options: {
      ...base,
      layout: { padding: { top: 6, bottom: 7 } },
      plugins: noLegend,
      scales: {
        x: { type: "category" as const, display: false },
        y: {
          type: "linear" as const, position: "right" as const, min: -1, max: 1,
          afterBuildTicks: (s: any) => { s.ticks = gradientSteps(-1, 1.1, .2).map((v) => ({ value: Math.round(v * 10) / 10 })); },
          afterFit: (s: any) => { s.width = 29; },
          grid: { display: false, drawOnChartArea: false, tickColor: "#333", tickLength: 2 },
          border: { display: false },
          ticks: { autoSkip: false, padding: 2, color: "#333", font: { family: FONT, size: 8 }, callback: (v: any) => String(v).replace("-", "\u2212") },
        },
      },
    },
  };
}

const rowTops: number[] = (() => {
  const out: number[] = [];
  let y = 0;
  clusterSizes.forEach((n) => { for (let i = 0; i < n; i++) out.push(y + i); y += n + .3; });
  return out;
})();
const rowMax = rowTops[rowTops.length - 1] + 1;

function heatConfig(z: number[][], groupSizes: number[], padRight: number, withLabels: boolean) {
  const dashes = {
    id: "dashes",
    afterDatasetsDraw(chart: any) {
      const { ctx, scales: { x, y }, chartArea: a } = chart;
      ctx.save();
      ctx.strokeStyle = "#111";
      ctx.lineWidth = 1.5;
      ctx.setLineDash([5, 3]);
      let c = 0;
      groupSizes.slice(0, -1).forEach((n) => {
        c += n;
        const px = (x.getPixelForValue(c - 1) + x.getPixelForValue(c)) / 2;
        ctx.beginPath();
        ctx.moveTo(px, a.top);
        ctx.lineTo(px, a.bottom);
        ctx.stroke();
      });
      ctx.setLineDash([]);
      if (withLabels) {
        ctx.textBaseline = "middle";
        ctx.textAlign = "left";
        geneNames.forEach((g, r) => {
          const blue = blueGenes.includes(g), red = redGenes.includes(g);
          ctx.font = `${blue || red ? "bold " : ""}9.1px ${FONT}`;
          ctx.fillStyle = blue ? "#3c3c96" : red ? "#e0202c" : "#222";
          ctx.fillText(g, a.right + 4.5, y.getPixelForValue(rowTops[r] + .5));
        });
      }
      ctx.restore();
    },
  };
  const cols = z[0].map((_, i) => String(i));
  return {
    type: "bar" as const,
    data: {
      labels: cols,
      datasets: z.map((row, r) => ({
        data: row.map(() => [rowTops[r], rowTops[r] + 1]),
        backgroundColor: row.map((v) => rdbu(v / 3)),
        borderColor: "#a8a8a8",
        borderWidth: .8,
        borderSkipped: false,
        grouped: false,
        barPercentage: 1,
        categoryPercentage: 1,
      })),
    },
    options: {
      ...base,
      layout: { padding: { right: padRight } },
      plugins: noLegend,
      scales: {
        x: { type: "category" as const, display: false },
        y: { type: "linear" as const, display: false, min: 0, max: rowMax, reverse: true },
      },
    },
    plugins: [dashes],
  };
}

function dendroConfig() {
  const datasets: any[] = [];
  const walk = (n: any): { h: number; y: number } => {
    if (typeof n === "number") return { h: 0, y: rowTops[n] + .5 };
    const [h, l, r] = n;
    const a = walk(l), b = walk(r);
    datasets.push({
      data: [{ x: a.h, y: a.y }, { x: h, y: a.y }, { x: h, y: b.y }, { x: b.h, y: b.y }],
      showLine: true, borderColor: "#444", borderWidth: 1, pointRadius: 0, clip: false,
    });
    return { h, y: (a.y + b.y) / 2 };
  };
  [treeCluster1, treeCluster2, treeCluster3].forEach(walk);
  return {
    type: "scatter" as const,
    data: { datasets },
    options: {
      ...base,
      plugins: noLegend,
      scales: {
        x: { type: "linear" as const, display: false, min: 0, max: 22.5, reverse: true },
        y: { type: "linear" as const, display: false, min: 0, max: rowMax, reverse: true },
      },
    },
  };
}

function heatBarConfig() {
  const steps = gradientSteps(-3.15, 3.15, .1);
  return {
    type: "bar" as const,
    data: {
      labels: ["scale"],
      datasets: steps.map((v) => ({ data: [[v, v + .11]], backgroundColor: rdbu((v + .05) / 3), borderWidth: 0, grouped: false, barPercentage: 1, categoryPercentage: 1 })),
    },
    options: {
      ...base,
      indexAxis: "y" as const,
      layout: { padding: { left: 9, right: 7.4 } },
      plugins: noLegend,
      scales: {
        y: { type: "category" as const, display: false },
        x: {
          type: "linear" as const, position: "bottom" as const, min: -3.15, max: 3.15,
          afterBuildTicks: (s: any) => { s.ticks = [-3, -2, -1, 0, 1, 2, 3].map((value) => ({ value })); },
          afterFit: (s: any) => { s.height = 12; },
          grid: { display: false, drawOnChartArea: false, tickColor: "#333", tickLength: 2 },
          border: { display: false },
          ticks: { autoSkip: false, maxRotation: 0, padding: 1, color: "#222", font: { family: FONT, size: 8, weight: "bold" as const }, callback: (v: any) => String(v).replace("-", "\u2212") },
        },
      },
    },
  };
}

// ---------- panel B ----------
function Flow() {
  const box = (y: number, h: number) => <rect x={475} y={y} width={135.5} height={h} rx={7} fill="#fff" stroke="#222" strokeWidth={1.3} />;
  const arrow = (y0: number, y1: number, head: boolean) => (
    <polygon fill="#d9d9d9" stroke="#333" strokeWidth={1}
      points={head
        ? `537.5,${y0} 547.5,${y0} 547.5,${y1 - 9} 552.5,${y1 - 9} 542.5,${y1} 532.5,${y1 - 9} 537.5,${y1 - 9}`
        : `537.5,${y0} 547.5,${y0} 547.5,${y1} 537.5,${y1}`} />
  );
  const dash = { fill: "none", stroke: "#222", strokeWidth: 1.3, strokeDasharray: "6 4" };
  return (
    <svg width={655} height={300} style={{ position: "absolute", left: 0, top: 0 }}>
      <rect x={470} y={1} width={145.5} height={145} {...dash} />
      <rect x={470} y={178.5} width={145.5} height={111} {...dash} />
      {arrow(44, 52, false)}
      {arrow(90, 103, true)}
      {arrow(142, 158, true)}
      {arrow(179, 186, false)}
      {arrow(231, 247, true)}
      {box(6, 38)}
      {box(52, 38)}
      {box(103.5, 38)}
      {box(186, 45)}
      {box(247, 42)}
    </svg>
  );
}

const W = 655, H = 1075;
const GX = 151.3, GW = 8.79, PX = 524.7, PW = 8.83;

export default function App() {
  useEffect(() => { document.body.style.margin = "0"; document.body.style.background = "#fff"; }, []);
  let acc = 0;
  const orthoCenters = orthoGroupSizes.map((n) => { const c = GX + (acc + n / 2) * GW; acc += n; return c; });
  let acc2 = 0;
  const pdxCenters = pdxGroupSizes.map((n) => { const c = PX + (acc2 + n / 2) * PW; acc2 += n; return c; });
  return (
    <div style={{ position: "absolute", left: 0, top: 0, width: W, height: H, overflow: "hidden", background: "#fff", fontFamily: FONT }}>
      {/* Panel A */}
      <T x={1} y={20} s={17} b c="#111">A</T>
      <T x={36} y={34} s={11.15}><b>Dataset 1:</b> Orthotopic tumors generated using Wnt-addicted HPAF-II cells</T>
      <T x={36} y={46} s={11.15}>with <i>RNF43</i> loss of function mutation.</T>
      <T x={33} y={92.5} s={9.7}>Time with ETC-159</T>
      <T x={33} y={104.5} s={9.7}>Treatment (hours):</T>
      <T x={276} y={107} s={9.9} a="center">ETC-159 Treatment; Twice Daily</T>
      <T x={403} y={133.5} s={9.8} a="center">(7 days)</T>
      <ChartBox x={110} y={60} w={310} h={75} config={() => timelineConfig(dataset1Up, dataset1Down, dataset1End, 14, 17, 20, 22.3)} />
      <T x={36} y={162} s={11.05}><b>Dataset 2:</b> Subcutaneous tumors generated using Wnt-addicted colorectal</T>
      <T x={36} y={174} s={11.05}>PDX solid tissue fragments with CR1: <i>PTPRK1</i>(exon 1) - <i>RSPO3</i>(exon 2)</T>
      <T x={36} y={186} s={11.05}>translocation (high <i>RSPO3</i> expression).</T>
      <T x={32.5} y={233} s={9.7}>Time with ETC-159</T>
      <T x={32.5} y={245} s={9.7}>Treatment (hours):</T>
      <ChartBox x={110} y={193} w={120} h={75} config={() => timelineConfig(dataset2Up, dataset2Down, dataset2End, 13.5, 13, 20, 24.7)} />

      {/* Panel B */}
      <Flow />
      <T x={444} y={19} s={17} b c="#111">B</T>
      <T x={542} y={20} s={10.8} b a="center">RNA-Seq Data</T>
      <T x={542} y={32} s={9.6} a="center" c="#aaa">(FASTQ Files)</T>
      <T x={542} y={62} s={10.8} b a="center">Xenome</T>
      <T x={542} y={73.5} s={9.5} a="center">Remove Mouse Reads</T>
      <T x={542} y={113.5} s={10.8} b a="center">STAR aligner</T>
      <T x={542} y={125} s={9.5} a="center">Align reads to genome</T>
      <T x={541.5} y={161.5} s={10.6} a="center">Alignment Files</T>
      <T x={541.5} y={172} s={9.2} a="center" c="#aaa">(BAM Files)</T>
      <T x={542} y={196} s={10.8} b a="center">RSEM</T>
      <T x={542} y={208} s={9.5} a="center">Generate Raw Read Counts</T>
      <T x={542} y={219.5} s={9.5} a="center">for Genes</T>
      <T x={542} y={257} s={10.8} b a="center">DESeq2</T>
      <T x={542} y={269} s={9.5} a="center">Differential Gene Expression</T>
      <T x={542} y={281} s={9.5} a="center">Analysis</T>

      {/* Panel C */}
      <T x={1} y={311} s={17} b c="#111">C</T>
      <T x={174} y={312.5} s={8.8} b a="center" c="#8b2a2e">Number of Splicing Regulators</T>
      <T x={174} y={323.5} s={8.8} b a="center" c="#8b2a2e">Up-Regulated with ETC-159</T>
      <ChartBox x={40} y={325} w={240} h={211} config={swarmConfig} />
      <T x={52.5} y={428} s={9.4} a="center" r={-90} c="#222"><span>Log<sub style={{ fontSize: 6.5 }}>2</sub> Fold Change in Expression</span></T>
      <div style={{ position: "absolute", left: 94, top: 532, width: 129, height: 2.6, background: "#000" }} />
      <T x={157} y={541} s={9.8} b a="center" c="#111">HPAF-II Orthotopic</T>
      <T x={256} y={541} s={9.8} b a="center" c="#111">ColoPDX</T>
      {downCounts.map((n, i) => (
        <T key={i} x={94.3 + i * 32.2} y={554.5} s={9.4} b a="center" c="#3f3f8f">{n}</T>
      ))}
      <T x={175} y={567} s={8.8} b a="center" c="#3f3f8f">Number of Splicing Regulators</T>
      <T x={175} y={578} s={8.8} b a="center" c="#3f3f8f">Down-Regulated with ETC-159</T>

      {/* Panel D */}
      <T x={343} y={311} s={17} b c="#111">D</T>
      <T x={517.7} y={319} s={15} b a="center" c="#111">Spearman Correlation</T>
      <ChartBox x={345} y={315} w={267} h={260} config={corrConfig} />
      <ChartBox x={611} y={385} w={41} h={195} config={corrBarConfig} />

      {/* Panel E */}
      <T x={2} y={617} s={17} b c="#111">E</T>
      <div style={{ position: "absolute", left: 155, top: 607, width: 346, height: 25, border: "1.3px dashed #222", boxSizing: "border-box" }} />
      <T x={328.5} y={620} s={14} b a="center" c="#111">HPAF-II Orthotopic Dataset</T>
      <div style={{ position: "absolute", left: 527, top: 592, width: 69, height: 40, border: "1.3px dashed #222", boxSizing: "border-box" }} />
      <T x={561.7} y={606} s={12} b a="center" c="#111">ColoPDX</T>
      <T x={561.7} y={620} s={12} b a="center" c="#111">Dataset</T>
      <T x={119} y={727} s={9.4} a="center" r={-90}>cluster1</T>
      <T x={119} y={838} s={9.4} a="center" r={-90}>cluster2</T>
      <T x={119} y={925} s={9.4} a="center" r={-90}>cluster3</T>
      <ChartBox x={128} y={636.3} w={22.5} h={358.4} config={dendroConfig} />
      <ChartBox x={151.3} y={636.3} w={351.7} h={358.4} config={() => heatConfig(orthoZ, orthoGroupSizes, 0, false)} />
      <ChartBox x={524.7} y={636.3} w={130.3} h={358.4} config={() => heatConfig(pdxZ, pdxGroupSizes, 59.7, true)} />
      {orthoGroups.map((g, i) => (
        <T key={i} x={orthoCenters[i]} y={1011} s={13.5} b a="center" c="#111">{g}</T>
      ))}
      {pdxGroups.map((g, i) => (
        <T key={i} x={pdxCenters[i]} y={1011} s={13.5} b a="center" c="#111">{g}</T>
      ))}
      <T x={181} y={1029} s={13.5} b a="center" c="#111">Control</T>
      <T x={541} y={1029} s={13.5} b a="center" c="#111">Control</T>
      <T x={261} y={1047} s={9.2} b c="#222">Gene Expression (z-score)</T>
      <T x={257} y={1059} s={9.2} b a="right" c="#222">Low Expression</T>
      <T x={481} y={1059} s={9.2} b c="#222">High Expression</T>
      <ChartBox x={250} y={1053} w={236} h={22} config={heatBarConfig} />
    </div>
  );
}
